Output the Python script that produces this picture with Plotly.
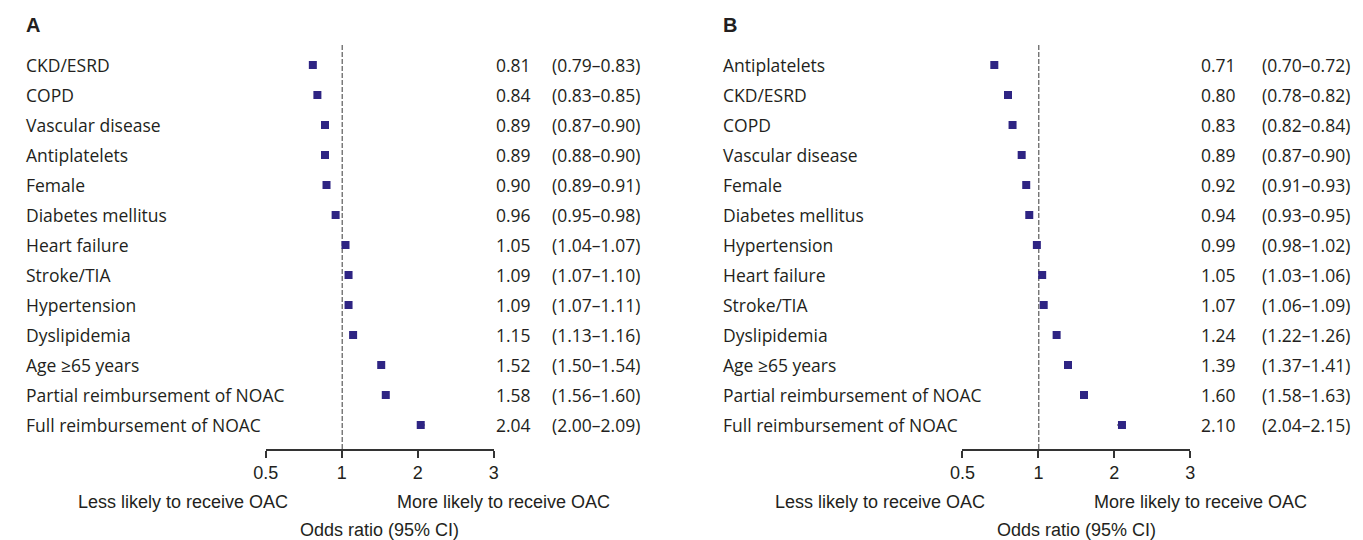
import plotly.graph_objects as go

W, H = 1363, 540

# ---------------- data ----------------
labels_a = ["CKD/ESRD", "COPD", "Vascular disease", "Antiplatelets", "Female",
            "Diabetes mellitus", "Heart failure", "Stroke/TIA", "Hypertension",
            "Dyslipidemia", "Age \u226565 years", "Partial reimbursement of NOAC",
            "Full reimbursement of NOAC"]
or_a = [0.81, 0.84, 0.89, 0.89, 0.90, 0.96, 1.05, 1.09, 1.09, 1.15, 1.52, 1.58, 2.04]
lo_a = [0.79, 0.83, 0.87, 0.88, 0.89, 0.95, 1.04, 1.07, 1.07, 1.13, 1.50, 1.56, 2.00]
hi_a = [0.83, 0.85, 0.90, 0.90, 0.91, 0.98, 1.07, 1.10, 1.11, 1.16, 1.54, 1.60, 2.09]

labels_b = ["Antiplatelets", "CKD/ESRD", "COPD", "Vascular disease", "Female",
            "Diabetes mellitus", "Hypertension", "Heart failure", "Stroke/TIA",
            "Dyslipidemia", "Age \u226565 years", "Partial reimbursement of NOAC",
            "Full reimbursement of NOAC"]
or_b = [0.71, 0.80, 0.83, 0.89, 0.92, 0.94, 0.99, 1.05, 1.07, 1.24, 1.39, 1.60, 2.10]
lo_b = [0.70, 0.78, 0.82, 0.87, 0.91, 0.93, 0.98, 1.03, 1.06, 1.22, 1.37, 1.58, 2.04]
hi_b = [0.72, 0.82, 0.84, 0.90, 0.93, 0.95, 1.02, 1.06, 1.09, 1.26, 1.41, 1.63, 2.15]

tick_vals = [0.5, 1, 2, 3]
tick_text = ["0.5", "1", "2", "3"]

# --------------- styling ---------------
MARK = "#2e2483"
ERR = "#5a5a5a"
TXT = "#231f20"
LBL_FONT = dict(family="Open Sans", size=17.5, color=TXT)
NUM_FONT = dict(family="Open Sans", size=17.5, color=TXT)
AX_FONT = dict(family="Liberation Sans", size=18, color=TXT)

OFF = 8  # page body margin compensation

def px(x):
    return (x - OFF) / W

def py(y):
    return 1 - (y - OFF) / H

fig = go.Figure()

TOP, BOT = 45, 449
ROW0, STEP = 65, 30
r_top = -(ROW0 - TOP) / STEP
r_bot = (BOT - TOP) / STEP + r_top

panels = [
    dict(lab=labels_a, v=or_a, lo=lo_a, hi=hi_a, ax0=256, ax1=487, yname="y",
         lab_x=11, val_x=487, ci_x=544, title="A", title_x=11,
         less_c=172, more_c=497),
    dict(lab=labels_b, v=or_b, lo=lo_b, hi=hi_b, ax0=962, ax1=1193, yname="y2",
         lab_x=717, val_x=1202, ci_x=1264, title="B", title_x=717,
         less_c=878, more_c=1203),
]

layout = {}
ax_idx = 0
for p_i, p in enumerate(panels):
    seg_w = (p["ax1"] - p["ax0"]) / 3
    seg_ranges = [(0.5, 1), (1, 2), (2, 3)]
    seg_ticks = [[0.5, 1], [2], [3]]
    ykey = "yaxis" if p["yname"] == "y" else "yaxis2"
    first_x = None
    for s, (r0, r1) in enumerate(seg_ranges):
        ax_idx += 1
        xname = "x" if ax_idx == 1 else f"x{ax_idx}"
        xkey = "xaxis" if ax_idx == 1 else f"xaxis{ax_idx}"
        if first_x is None:
            first_x = xname
        d0 = px(p["ax0"] + s * seg_w)
        d1 = px(p["ax0"] + (s + 1) * seg_w)
        tv = [t for t in tick_vals if t in seg_ticks[s]]
        tt = [tick_text[tick_vals.index(t)] for t in tv]
        layout[xkey] = dict(domain=[d0, d1], range=[r0, r1], anchor=p["yname"],
                            showline=True, linecolor="#333", linewidth=1.5,
                            ticks="outside", ticklen=7, tickwidth=1.5, tickcolor="#333",
                            tickvals=tv, ticktext=tt, tickfont=AX_FONT,
                            showgrid=False, zeroline=False, fixedrange=True)
        idx = [i for i, v in enumerate(p["v"]) if (r0 <= v < r1) or (s == 2 and v >= r1)]
        xs = [p["v"][i] for i in idx]
        ys = [p["lab"][i] for i in idx]
        ep = [p["hi"][i] - p["v"][i] for i in idx]
        em = [p["v"][i] - p["lo"][i] for i in idx]
        fig.add_trace(go.Scatter(
            x=xs, y=ys, xaxis=xname, yaxis=p["yname"], mode="markers",
            marker=dict(symbol="square", size=8, color=MARK, line=dict(width=0)),
            error_x=dict(type="data", array=ep, arrayminus=em, color=ERR,
                         thickness=2, width=0),
            cliponaxis=False, showlegend=False, hoverinfo="skip"))
        if s == 1:
            fig.add_shape(type="line", xref=xname, yref="paper", x0=1, x1=1,
                          y0=py(BOT), y1=py(TOP), layer="below",
                          line=dict(color="#222", width=1.8, dash="5px,2px"))
    layout[ykey] = dict(domain=[py(BOT), py(TOP)], type="category",
                        categoryorder="array", categoryarray=p["lab"],
                        range=[r_bot, r_top], visible=False, anchor=first_x,
                        fixedrange=True)

    for i, lab in enumerate(p["lab"]):
        fig.add_annotation(x=px(p["lab_x"]), y=lab, xref="paper", yref=p["yname"],
                           text=lab, showarrow=False, xanchor="left", yanchor="middle",
                           font=LBL_FONT)
        fig.add_annotation(x=px(p["val_x"]), y=lab, xref="paper", yref=p["yname"],
                           text=f"{p['v'][i]:.2f}", showarrow=False, xanchor="left",
                           yanchor="middle", font=NUM_FONT)
        fig.add_annotation(x=px(p["ci_x"]), y=lab, xref="paper", yref=p["yname"],
                           text=f"({p['lo'][i]:.2f}\u2013{p['hi'][i]:.2f})", showarrow=False,
                           xanchor="left", yanchor="middle", font=NUM_FONT)
    fig.add_annotation(x=px(p["title_x"]), y=py(25), xref="paper", yref="paper",
                       text=f"<b>{p['title']}</b>", showarrow=False, xanchor="left",
                       yanchor="middle", font=dict(family="Liberation Sans", size=20, color=TXT))
    fig.add_annotation(x=px(p["less_c"]), y=py(502), xref="paper", yref="paper",
                       text="Less likely to receive OAC", showarrow=False,
                       xanchor="center", yanchor="middle", font=AX_FONT)
    fig.add_annotation(x=px(p["more_c"]), y=py(502), xref="paper", yref="paper",
                       text="More likely to receive OAC", showarrow=False,
                       xanchor="center", yanchor="middle", font=AX_FONT)
    fig.add_annotation(x=px((p["ax0"] + p["ax1"]) / 2), y=py(530), xref="paper", yref="paper",
                       text="Odds ratio (95% CI)", showarrow=False,
                       xanchor="center", yanchor="middle", font=AX_FONT)

fig.update_layout(width=W, height=H, margin=dict(l=0, r=0, t=0, b=0),
                  paper_bgcolor="white", plot_bgcolor="white", **layout)

fig.write_html("out.html")
